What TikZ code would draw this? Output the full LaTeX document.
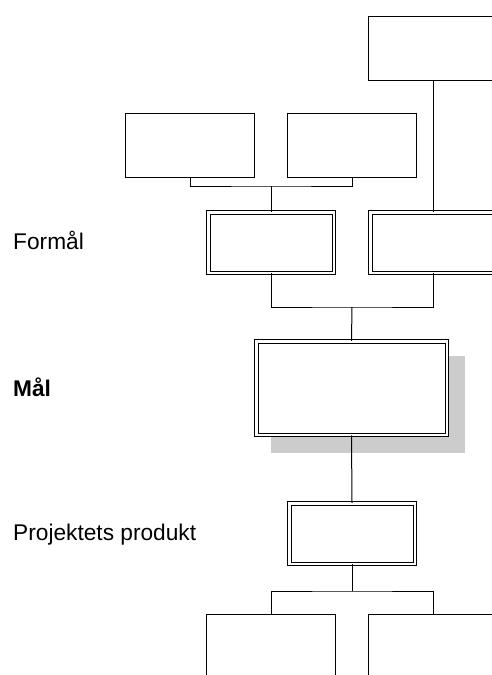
\documentclass[tikz,border=0pt]{standalone}
\usepackage{fontspec}
\setmainfont{Liberation Sans}
\usepackage{tikz}
\usetikzlibrary{shadows}

\begin{document}
\begin{tikzpicture}[x=1pt, y=-1pt,
  box/.style={draw, line width=1pt, inner sep=0pt, minimum width=129pt, minimum height=64pt},
  dbox/.style={draw, line width=1pt, double, double distance=2.5pt, inner sep=0pt,
    minimum width=125.5pt, minimum height=60.5pt},
  goal/.style={dbox, minimum width=190.5pt, minimum height=93.5pt, fill=white,
    drop shadow={shadow xshift=16pt, shadow yshift=-16pt, fill=black!20,
      draw=black!20, line width=3.5pt, opacity=1}},
  conn/.style={line width=1pt},
  lbl/.style={anchor=base west, inner sep=0pt, font=\fontsize{22.7}{26}\selectfont}
]
  \useasboundingbox (0,0) rectangle (492,675);
  \clip (0,0) rectangle (492,675);

  % boxes
  \node[box] (top) at (433,48.5) {};
  \node[box] (upA) at (190,145.5) {};
  \node[box] (upB) at (352,145.5) {};
  \node[dbox] (purA) at (271,242.5) {};
  \node[dbox] (purB) at (433,242.5) {};
  \node[goal] (goal) at (351.5,388) {};
  \node[dbox] (prod) at (352,533.5) {};
  \node[box] (subA) at (271,646.5) {};
  \node[box] (subB) at (433,646.5) {};

  % level labels
  \node[lbl] (lpur) at (13,249) {Formål};
  \node[lbl, font=\fontsize{22.7}{26}\selectfont\bfseries] (lgoal) at (13,396) {Mål};
  \node[lbl] (lprod) at (13,540) {Projektets produkt};

  % connectors
  \coordinate (j1) at (271,186);
  \coordinate (j2) at (352,307);
  \coordinate (j3) at (352,591);
  \draw[conn] (upA.south) |- (j1) -| (upB.south);
  \draw[conn] (j1) -- (purA.north);
  \draw[conn] (top.south) -- (purB.north);
  \draw[conn] (purA.south) |- (j2) -| (purB.south);
  \draw[conn] (j2) -- (goal.north);
  \draw[conn] (goal.south) -- (prod.north);
  \draw[conn] (prod.south) -- (j3);
  \draw[conn] (subA.north) |- (j3) -| (subB.north);
\end{tikzpicture}
\end{document}
